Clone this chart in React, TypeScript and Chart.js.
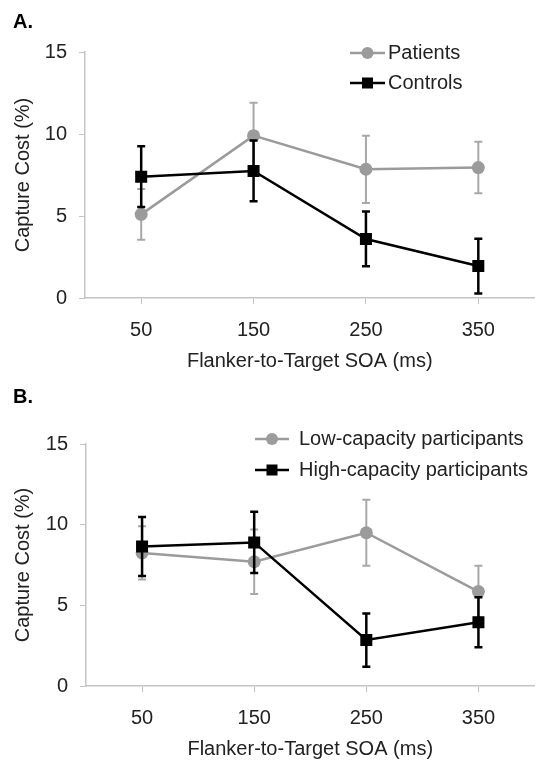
import React, { useEffect, useRef } from 'react';
import { Chart, registerables } from 'chart.js';

Chart.register(...registerables);

// ---- data ----
const soaLabels = ['50', '150', '250', '350'];
const yTickValues = [0, 5, 10, 15];

const patientsCost = [5.1, 9.9, 7.85, 7.95];
const patientsErr = [1.55, 2.0, 2.05, 1.57];
const controlsCost = [7.4, 7.75, 3.6, 1.95];
const controlsErr = [1.85, 1.85, 1.67, 1.67];

const lowCapCost = [8.25, 7.7, 9.5, 5.85];
const lowCapErr = [1.65, 2.0, 2.05, 1.6];
const highCapCost = [8.65, 8.9, 2.85, 3.95];
const highCapErr = [1.83, 1.9, 1.65, 1.55];

const FONT = '"Liberation Sans", Arial, Helvetica, sans-serif';
const GRAY = '#9b9b9b';
const GRAY_ERR = '#a8a8a8';
const BLACK = '#000000';
const AXIS = '#c4c4c4';
const TEXT = '#222222';

const errorBarPlugin = {
  id: 'errorBars',
  beforeDatasetDraw(chart: any, args: any) {
    const ds = chart.data.datasets[args.index];
    const errs: number[] | undefined = ds.errors;
    if (!errs) return;
    const yScale = chart.scales.y;
    const ctx = chart.ctx;
    ctx.save();
    ctx.strokeStyle = ds.errorColor;
    ctx.lineWidth = ds.errorWidth;
    args.meta.data.forEach((pt: any, i: number) => {
      const v = ds.data[i];
      const e = errs[i];
      const yt = yScale.getPixelForValue(v + e);
      const yb = yScale.getPixelForValue(v - e);
      const x = pt.x;
      const cap = 4;
      ctx.beginPath();
      ctx.moveTo(x, yt);
      ctx.lineTo(x, yb);
      ctx.moveTo(x - cap, yt);
      ctx.lineTo(x + cap, yt);
      ctx.moveTo(x - cap, yb);
      ctx.lineTo(x + cap, yb);
      ctx.stroke();
    });
    ctx.restore();
  },
};

const overlayPlugin = {
  id: 'overlay',
  afterDraw(chart: any, _args: any, opts: any) {
    const ctx = chart.ctx;
    ctx.save();
    ctx.textBaseline = 'middle';
    ctx.textAlign = 'left';
    ctx.fillStyle = BLACK;
    ctx.font = `bold 20px ${FONT}`;
    ctx.fillText(opts.tag, opts.tagX, opts.tagY);
    ctx.font = `20px ${FONT}`;
    chart.data.datasets.forEach((ds: any, i: number) => {
      const y = opts.legendY + i * opts.legendDy;
      ctx.strokeStyle = ds.borderColor;
      ctx.lineWidth = ds.borderWidth;
      ctx.beginPath();
      ctx.moveTo(opts.lineX0, y);
      ctx.lineTo(opts.lineX1, y);
      ctx.stroke();
      ctx.fillStyle = ds.pointBackgroundColor;
      const mx = (opts.lineX0 + opts.lineX1) / 2;
      if (ds.pointStyle === 'rect') {
        ctx.fillRect(mx - 5.5, y - 5.5, 11, 11);
      } else {
        ctx.beginPath();
        ctx.arc(mx, y, 6, 0, Math.PI * 2);
        ctx.fill();
      }
      ctx.fillStyle = TEXT;
      ctx.fillText(ds.label, opts.textX, y);
    });
    ctx.restore();
  },
};

type PanelCfg = {
  tag: string;
  series: { label: string; values: number[]; errors: number[]; gray: boolean }[];
  padTop: number;
  padRight: number;
  yAxisWidth: number;
  xAxisHeight: number;
  xTitlePadBottom: number;
  legend: { lineX0: number; lineX1: number; textX: number; legendY: number; legendDy: number };
  tagY: number;
};

const panels: PanelCfg[] = [
  {
    tag: 'A.',
    series: [
      { label: 'Patients', values: patientsCost, errors: patientsErr, gray: true },
      { label: 'Controls', values: controlsCost, errors: controlsErr, gray: false },
    ],
    padTop: 52,
    padRight: 5,
    yAxisWidth: 85,
    xAxisHeight: 84,
    xTitlePadBottom: 9,
    legend: { lineX0: 350, lineX1: 385, textX: 388, legendY: 53, legendDy: 30 },
    tagY: 22,
  },
  {
    tag: 'B.',
    series: [
      { label: 'Low-capacity participants', values: lowCapCost, errors: lowCapErr, gray: true },
      { label: 'High-capacity participants', values: highCapCost, errors: highCapErr, gray: false },
    ],
    padTop: 62,
    padRight: 0,
    yAxisWidth: 86,
    xAxisHeight: 78,
    xTitlePadBottom: 3,
    legend: { lineX0: 255, lineX1: 289, textX: 299, legendY: 57, legendDy: 31 },
    tagY: 15,
  },
];

function Panel({ cfg }: { cfg: PanelCfg }) {
  const ref = useRef<HTMLCanvasElement>(null);
  useEffect(() => {
    if (!ref.current) return;
    const datasets = cfg.series.map((s) => ({
      label: s.label,
      data: s.values,
      errors: s.errors,
      errorColor: s.gray ? GRAY_ERR : BLACK,
      errorWidth: s.gray ? 2 : 2.5,
      borderColor: s.gray ? GRAY : BLACK,
      backgroundColor: s.gray ? GRAY : BLACK,
      pointBackgroundColor: s.gray ? GRAY : BLACK,
      pointBorderColor: s.gray ? GRAY : BLACK,
      pointBorderWidth: 0,
      borderWidth: 2.5,
      pointStyle: s.gray ? 'circle' : 'rect',
      pointRadius: s.gray ? 6.5 : 8.5,
      tension: 0,
      order: s.gray ? 1 : 0,
    }));
    const chart = new Chart(ref.current, {
      type: 'line',
      data: { labels: soaLabels, datasets: datasets as any },
      plugins: [errorBarPlugin, overlayPlugin],
      options: {
        animation: false,
        responsive: false,
        events: [],
        layout: { padding: { top: cfg.padTop, right: cfg.padRight, left: 0, bottom: 0 } },
        plugins: {
          legend: { display: false },
          tooltip: { enabled: false },
          overlay: { tag: cfg.tag, tagX: 13, tagY: cfg.tagY, ...cfg.legend },
        } as any,
        scales: {
          x: {
            type: 'category',
            offset: true,
            grid: { display: true, drawOnChartArea: false, drawTicks: true, tickLength: 6, color: AXIS, offset: false },
            border: { color: AXIS, width: 1.5 },
            ticks: { font: { family: FONT, size: 20 }, color: TEXT, padding: 14, maxRotation: 0 },
            title: {
              display: true,
              text: 'Flanker-to-Target SOA (ms)',
              font: { family: FONT, size: 20 },
              color: TEXT,
              padding: { top: 0, bottom: cfg.xTitlePadBottom },
            },
            afterFit: (scale: any) => {
              scale.height = cfg.xAxisHeight;
            },
          },
          y: {
            min: 0,
            max: 15,
            afterBuildTicks: (scale: any) => {
              scale.ticks = yTickValues.map((v) => ({ value: v }));
            },
            grid: { display: true, drawOnChartArea: false, drawTicks: true, tickLength: 6, color: AXIS },
            border: { color: AXIS, width: 1.5 },
            ticks: { font: { family: FONT, size: 20 }, color: TEXT, padding: 12 },
            title: {
              display: true,
              text: 'Capture Cost (%)',
              font: { family: FONT, size: 20 },
              color: TEXT,
              padding: { top: 11, bottom: 0 },
            },
            afterFit: (scale: any) => {
              scale.width = cfg.yAxisWidth;
            },
          },
        },
      } as any,
    });
    return () => chart.destroy();
  }, [cfg]);
  return (
    <canvas
      ref={ref}
      width={543}
      height={382}
      style={{ display: 'block', width: 543, height: 382 }}
    />
  );
}

export default function App() {
  return (
    <div style={{ position: 'absolute', left: 0, top: 0, width: 543, height: 764, background: '#ffffff' }}>
      {panels.map((p) => (
        <Panel key={p.tag} cfg={p} />
      ))}
    </div>
  );
}
